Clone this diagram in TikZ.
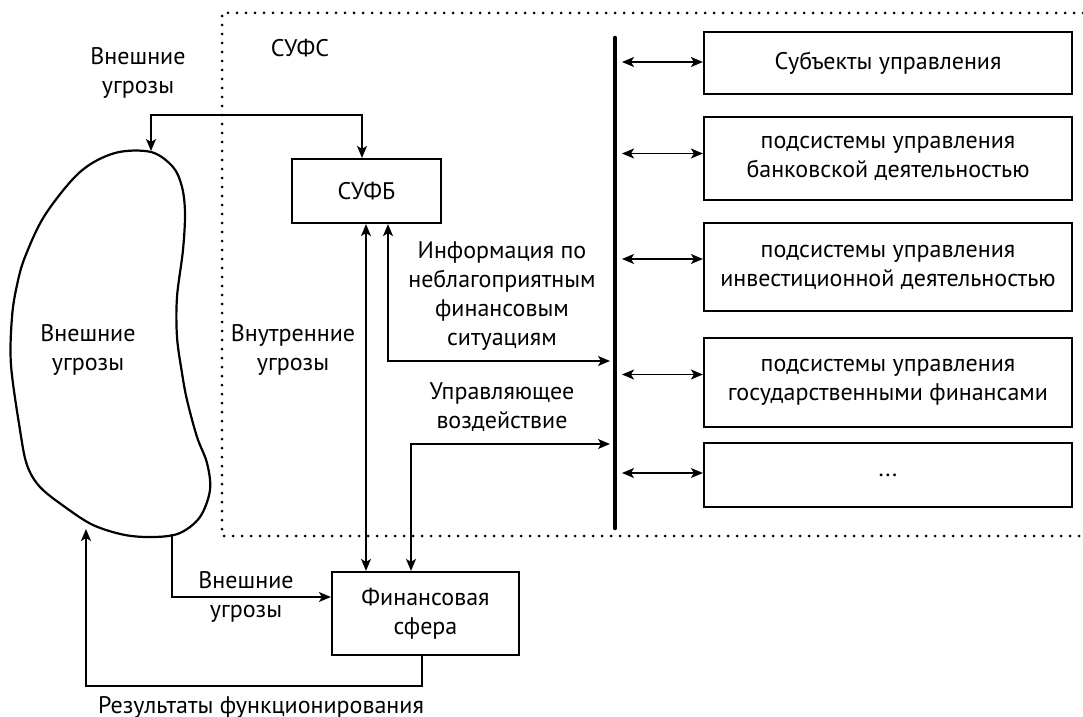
\documentclass[tikz,border=0pt]{standalone}
\usepackage{fontspec}
\setmainfont{PT Sans}
\usepackage{tikz}
\usetikzlibrary{arrows.meta}

\begin{document}
\begin{tikzpicture}[x=0.5pt,y=-0.5pt,
		box/.style={draw, line width=1.1pt, inner sep=0pt, align=center, font=\fontsize{12}{14.5}\selectfont},
		lbl/.style={align=center, inner sep=0pt, font=\fontsize{12}{14.5}\selectfont},
		arr/.style={line width=0.7pt, {Stealth[length=6pt,width=5pt,inset=1.5pt]}-{Stealth[length=6pt,width=5pt,inset=1.5pt]}},
		arrto/.style={line width=0.7pt, -{Stealth[length=6pt,width=5pt,inset=1.5pt]}}]
		\useasboundingbox (0,0) rectangle (1083,717);
		
		% Dotted frame of the system
		\draw[line width=1.5pt, line cap=round, dash pattern=on 0pt off 4.5pt] (1083,13) -- (222,13) -- (222,536) -- (1083,536);
		\node[lbl] (sufs) at (300,48) {СУФС};
		
		% The cloud of external threats
		\draw[line width=1.1pt] plot[smooth cycle, tension=0.55] coordinates {(115,153) (151,152) (173,167) (182,187) (185,213) (183,250) (177,297) (177,337) (182,373) (187,400) (197,437) (207,463) (210,490) (200,517) (180,533) (155,537) (125,535) (93,525) (65,507) (40,487) (27,465) (20,430) (11,365) (12,317) (17,285) (25,257) (45,215) (80,172)};
		\node[lbl] (cloud) at (88,350) {Внешние\\угрозы};
		\coordinate (cloudtop) at (151,151);
		\coordinate (cloudbot) at (172,534);
		\coordinate (cloudleft) at (86,529);
		
		% Boxes
		\node[box, minimum width=74.5pt, minimum height=32pt] (sufb) at (366.5,191) {СУФБ};
		\node[box, minimum width=93.5pt, minimum height=41.5pt] (fin) at (425.5,613.5) {Финансовая\\сфера};
		
		\node[box, minimum width=184pt, minimum height=31pt] (subj) at (888,63) {Субъекты управления};
		\node[box, minimum width=184pt, minimum height=41.5pt] (bank) at (888,158.5) {подсистемы управления\\банковской деятельностью};
		\node[box, minimum width=184pt, minimum height=44pt] (invest) at (888,267) {подсистемы управления\\инвестиционной деятельностью};
		\node[box, minimum width=184pt, minimum height=44.5pt] (gov) at (888,382.5) {подсистемы управления\\государственными финансами};
		\node[box, minimum width=184pt, minimum height=32pt] (other) at (888,475) {...};
		
		% Bus line
		\coordinate (bustop) at (615,38);
		\coordinate (busbot) at (615,528);
		\draw[line width=2.3pt, line cap=round] (bustop) -- (busbot);
		\coordinate (busR) at (622,0);
		\coordinate (busL) at (610,0);
		
		% Arrows bus <-> subsystems
		\foreach \b/\s in {subj/0.5pt, bank/2.5pt, invest/4pt, gov/4pt, other/1pt}
			\draw[arr] ([yshift=\s]\b.west -| busR) -- ([yshift=\s]\b.west);
		
		% Threats from outside
		\node[lbl] (extA) at (138,73) {Внешние\\угрозы};
		\coordinate (topL) at (151,115);
		\coordinate (topR) at (362,115);
		\draw[arr] (cloudtop) -- (topL) -- (topR) -- (topR |- sufb.north);
		
		% Inner threats and information
		\coordinate (vA) at (366,0);
		\draw[arr] (sufb.south -| vA) -- (fin.north -| vA);
		\node[lbl] (inner) at (293,350) {Внутренние\\угрозы};
		
		\coordinate (vB) at (388,361);
		\draw[arr] (sufb.south -| vB) -- (vB) -- (vB -| busL);
		\node[lbl] (info) at (502,296) {Информация по\\неблагоприятным\\финансовым\\ситуациям};
		
		\coordinate (vC) at (411,444);
		\draw[arr] (fin.north -| vC) -- (vC) -- (vC -| busL);
		\node[lbl] (ctrl) at (502,407) {Управляющее\\воздействие};
		
		% Lower loop
		\coordinate (vD) at (172,597);
		\draw[arrto] (cloudbot) -- (vD) -- (vD -| fin.west);
		\node[lbl] (extB) at (246,597) {Внешние\\угрозы};
		
		\coordinate (vE) at (422,686);
		\coordinate (vF) at (86,686);
		\draw[arrto] (fin.south -| vE) -- (vE) -- (vF) -- (cloudleft);
		\node[lbl] (res) at (261,707) {Результаты функционирования};
	\end{tikzpicture}
\end{document}
